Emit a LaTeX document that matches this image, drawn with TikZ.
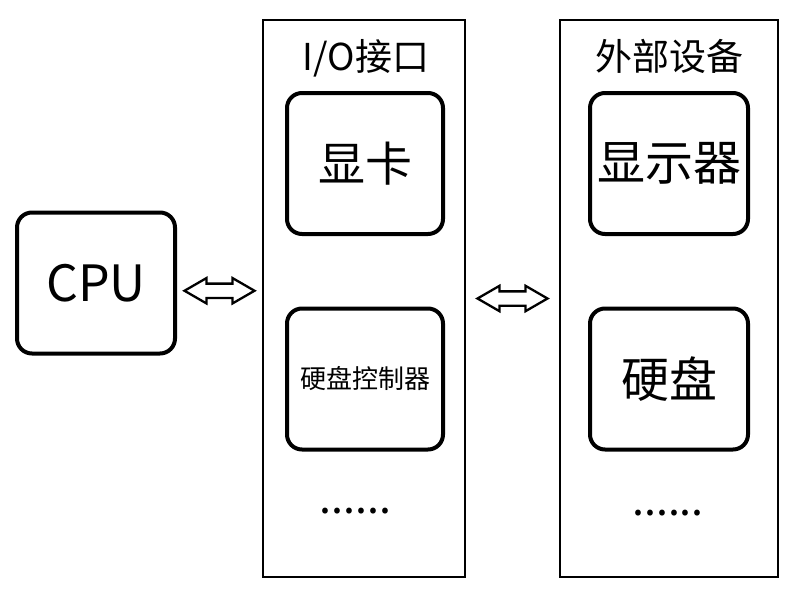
\documentclass[tikz,border=0pt]{standalone}
\usepackage{fontspec}
\setmainfont{Noto Sans CJK SC}
\usetikzlibrary{shapes.arrows, calc}

\begin{document}
\begin{tikzpicture}[x = 1pt, y = -1pt,
        box/.style = {draw, line width = 4pt, rounded corners = 15pt, minimum width = 156pt, minimum height = 141pt, inner sep = 0pt},
        panel/.style = {draw, line width = 2pt, inner sep = 0pt},
        more/.style = {anchor = base, inner sep = 0pt, font = \fontsize{43}{43}\selectfont},
        link/.style = {draw, line width = 2.3pt, double arrow, double arrow tip angle = 60, double arrow head extend = 5.5pt, inner sep = 6pt, minimum height = 70pt}]
        \useasboundingbox (0, 0) rectangle (800, 600);

        \node[box, minimum width = 158pt, font = \fontsize{50}{50}\selectfont] (cpu) at (96, 283) {CPU};

        \begin{scope}
            \node[panel, minimum width = 202pt, minimum height = 557pt] (io) at (364, 298.5) {};
            \node[font = \fontsize{37}{37}\selectfont] (iotitle) at (366, 58) {I/O接口};
            \node[box, font = \fontsize{47}{47}\selectfont] (gpu) at (365, 163.5) {显卡};
            \node[box, font = \fontsize{26}{26}\selectfont] (hdc) at (365, 379) {硬盘控制器};
            \node[more] (iodots) at (355.5, 513) {......};
        \end{scope}

        \begin{scope}
            \node[panel, minimum width = 218pt, minimum height = 557pt] (ext) at (669, 298.5) {};
            \node[font = \fontsize{37}{37}\selectfont] (exttitle) at (669, 56) {外部设备};
            \node[box, minimum width = 158pt, font = \fontsize{48}{48}\selectfont] (monitor) at (669, 163.5) {显示器};
            \node[box, minimum width = 158pt, font = \fontsize{48}{48}\selectfont] (disk) at (669, 379) {硬盘};
            \node[more] (extdots) at (668, 515) {......};
        \end{scope}

        \coordinate (mid) at (0, 282);
        \node[link] (cpuio) at ($(cpu.east)!0.5!(io.west)$ |- mid) {};
        \node[link] (ioext) at ($(io.east)!0.5!(ext.west)$ |- mid) {};
    \end{tikzpicture}
\end{document}
